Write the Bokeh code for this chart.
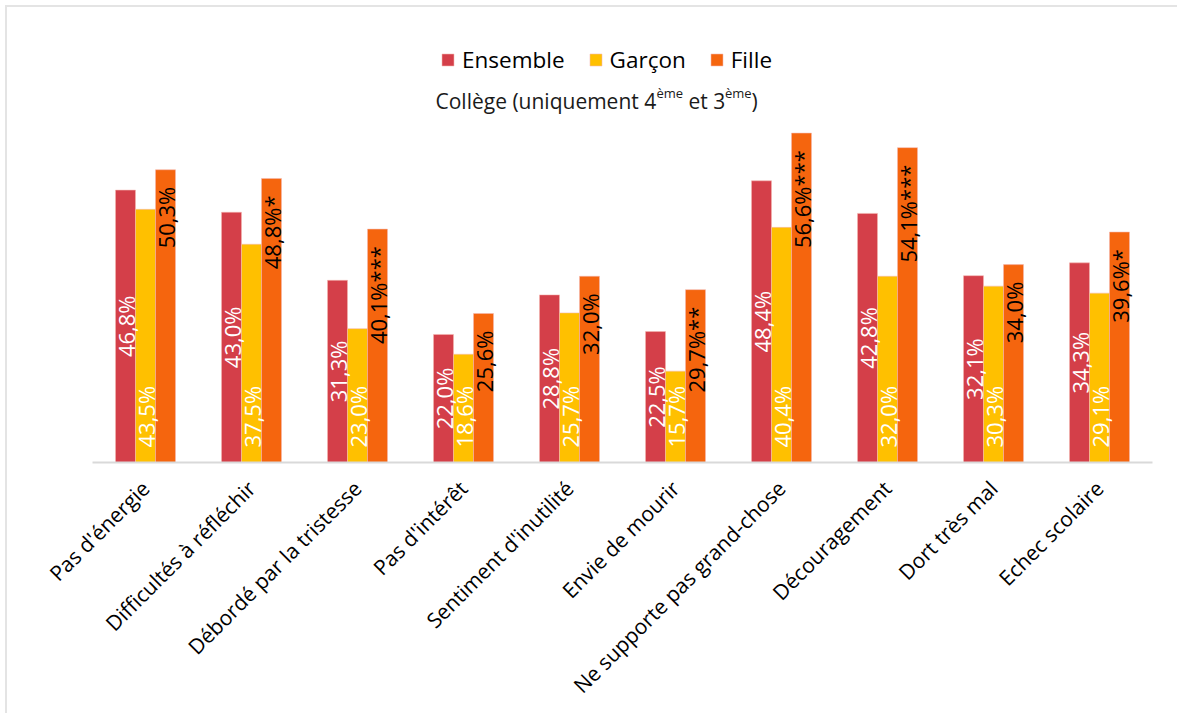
import math
from bokeh.plotting import figure
from bokeh.models import (Range1d, FixedTicker, Legend, LegendItem, Label,
                          ColumnDataSource)
from bokeh.core.properties import value
from bokeh.embed import file_html
from bokeh.resources import INLINE

# ---- data ----
categories = ["Pas d'énergie", "Difficultés à réfléchir", "Débordé par la tristesse",
              "Pas d'intérêt", "Sentiment d'inutilité", "Envie de mourir",
              "Ne supporte pas grand-chose", "Découragement", "Dort très mal",
              "Echec scolaire"]
ensemble = [46.8, 43.0, 31.3, 22.0, 28.8, 22.5, 48.4, 42.8, 32.1, 34.3]
garcon = [43.5, 37.5, 23.0, 18.6, 25.7, 15.7, 40.4, 32.0, 30.3, 29.1]
fille = [50.3, 48.8, 40.1, 25.6, 32.0, 29.7, 56.6, 54.1, 34.0, 39.6]
fille_signif = ["", "*", "***", "", "", "**", "***", "***", "", "*"]
series_names = ["Ensemble", "Garçon", "Fille"]
colors = ["#D43F49", "#FFC000", "#F5650E"]
subtitle_parts = ["Collège (uniquement 4", "ème", "et 3", "ème", ")"]

FONT = "Open Sans"
SHIFT = 7                      # chart border offset inside the page
W, H = 1179 - SHIFT, 715 - SHIFT
LEFT, RIGHT, TOP, BASE = 92 - SHIFT, 1152 - SHIFT, 3, 462 - SHIFT
PX_PER_UNIT = 5.82
y_end = (BASE - TOP) / PX_PER_UNIT

def fmt(v):
    return ("%.1f" % v).replace(".", ",") + "%"

p = figure(width=W, height=H, output_backend="svg", toolbar_location=None,
           x_range=Range1d(-0.5, len(categories) - 0.5), y_range=Range1d(0, y_end),
           min_border_left=LEFT, min_border_right=W - RIGHT,
           min_border_top=TOP, min_border_bottom=H - BASE,
           styles={"margin-left": "%dpx" % SHIFT, "margin-top": "%dpx" % SHIFT,
                   "box-shadow": "-2px -2px 0 0 #E4E4E4"})
p.outline_line_color = None
p.grid.visible = False
p.yaxis.visible = False
p.background_fill_color = "white"
p.border_fill_color = "white"

bw = 20 / 106.0
idx = list(range(len(categories)))
offsets = [-bw, 0.0, bw]
series = [ensemble, garcon, fille]
renderers = []
for vals, off, col in zip(series, offsets, colors):
    src = ColumnDataSource(dict(x=[i + off for i in idx], top=vals))
    r = p.vbar(x="x", top="top", width=bw, source=src, fill_color=col,
               line_color="#F4B8B0", line_width=0.8, line_alpha=0.7)
    renderers.append(r)

# data labels
lab_e = ColumnDataSource(dict(x=[i + offsets[0] for i in idx], y=[v / 2 for v in ensemble],
                              t=[fmt(v) for v in ensemble]))
p.text(x="x", y="y", text="t", source=lab_e, angle=math.pi / 2, text_align="center",
       text_baseline="middle", text_color="white", text_font=value(FONT),
       text_font_size="22px")
lab_g = ColumnDataSource(dict(x=[i + offsets[1] for i in idx], y=[0] * len(idx),
                              t=[fmt(v) for v in garcon]))
p.text(x="x", y="y", text="t", source=lab_g, angle=math.pi / 2, text_align="left",
       text_baseline="middle", text_color="white", text_font=value(FONT),
       text_font_size="22px", y_offset=-15)
lab_f = ColumnDataSource(dict(x=[i + offsets[2] for i in idx], y=fille,
                              t=[fmt(v) + s for v, s in zip(fille, fille_signif)]))
p.text(x="x", y="y", text="t", source=lab_f, angle=math.pi / 2, text_align="right",
       text_baseline="middle", text_color="black", text_font=value(FONT),
       text_font_size="22px", y_offset=17)

# x axis
ax = p.xaxis[0]
ax.ticker = FixedTicker(ticks=idx)
ax.major_label_overrides = {i: c for i, c in enumerate(categories)}
ax.major_label_orientation = math.pi / 4
ax.major_label_text_font = FONT
ax.major_label_text_font_size = "21px"
ax.major_label_text_color = "black"
ax.major_tick_line_color = None
ax.minor_tick_line_color = None
ax.axis_line_color = "#D9D9D9"
ax.axis_line_width = 2
ax.major_label_standoff = 16

# legend
legend = Legend(items=[LegendItem(label=n, renderers=[r]) for n, r in zip(series_names, renderers)],
                orientation="horizontal", location=(348, 387),
                label_text_font=FONT, label_text_font_size="22.5px", label_text_color="black",
                glyph_width=15, glyph_height=15, label_standoff=7, spacing=23,
                padding=0, margin=0, border_line_color=None, background_fill_alpha=0)
p.add_layout(legend, "center")

# subtitle with superscripts
x0 = (435 - 92) / 106.0 - 0.5
y_main = (462 - 100) / PX_PER_UNIT
sub_offsets = [0, 221, 253, 289.5, 316]
for part, xo in zip(subtitle_parts, sub_offsets):
    sup = part == "ème"
    p.add_layout(Label(x=x0, y=y_main, x_offset=xo, y_offset=8 if sup else 0, text=part,
                       text_font=FONT, text_font_size="13px" if sup else "21px",
                       text_color="#1a1a1a", text_baseline="alphabetic", text_align="left"))

open("out.html", "w").write(file_html(p, INLINE))
